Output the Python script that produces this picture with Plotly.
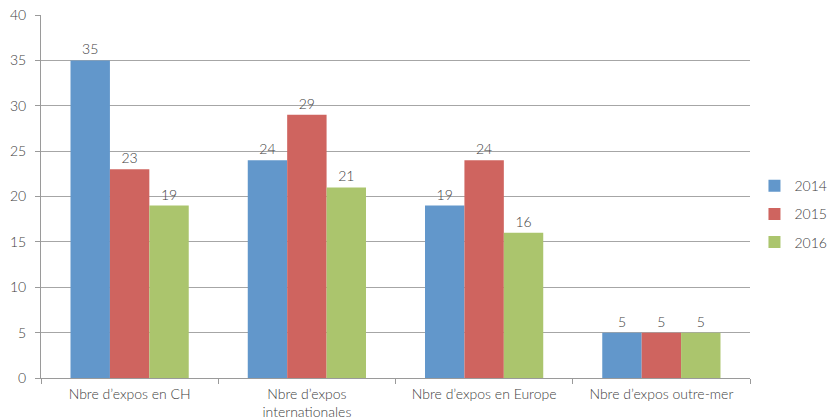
import plotly.graph_objects as go

categories = ["Nbre d’expos en CH", "Nbre d’expos<br>internationales", "Nbre d’expos en Europe", "Nbre d’expos outre-mer"]
years = ["2014", "2015", "2016"]
v2014 = [35, 24, 19, 5]
v2015 = [23, 29, 24, 5]
v2016 = [19, 21, 16, 5]
colors = ["#6297CB", "#CF645F", "#ABC56D"]

font_family = "Lato, 'Open Sans', sans-serif"
text_color = "#404040"
fs = 14

fig = go.Figure()
for name, vals, col in zip(years, [v2014, v2015, v2016], colors):
    fig.add_trace(go.Bar(
        name=name, x=categories, y=vals, legendgroup=name,
        marker=dict(color=col, line=dict(width=0)),
        text=[str(v) for v in vals], textposition="outside",
        textfont=dict(size=fs, color=text_color, family=font_family, weight=300),
        cliponaxis=False,
    ))

fig.update_layout(
    width=830, height=419,
    margin=dict(l=41, r=80, t=15, b=41, autoexpand=False),
    paper_bgcolor="white", plot_bgcolor="white",
    barmode="group", bargap=0.333, bargroupgap=0,
    font=dict(family=font_family, size=fs, color=text_color, weight=300),
    showlegend=True,
    legend=dict(xref="container", yref="container", x=0.909, y=0.489,
                yanchor="middle", xanchor="left", traceorder="grouped",
                font=dict(size=fs, color=text_color, weight=300), itemwidth=30,
                tracegroupgap=7, bgcolor="rgba(0,0,0,0)"),
    xaxis=dict(
        showline=True, linecolor="#9a9a9a", linewidth=1, automargin=False,
        ticks="outside", tickson="boundaries", ticklen=5, tickcolor="#9a9a9a",
        showgrid=False, tickfont=dict(size=fs, color=text_color, weight=300),
        ticklabelstandoff=3, ticklabeloverflow="allow",
    ),
    yaxis=dict(
        range=[0, 40], dtick=5, showline=True, linecolor="#9a9a9a", linewidth=1,
        automargin=False,
        ticks="outside", ticklen=5, tickcolor="#9a9a9a",
        showgrid=True, gridcolor="#a6a6a6", gridwidth=1,
        zeroline=False, tickfont=dict(size=fs, color=text_color, weight=300),
        ticklabelstandoff=6, ticklabeloverflow="allow",
    ),
)

fig.write_html(
    "out.html",
    config={"displayModeBar": False},
    post_script="document.body.style.margin='0';document.body.style.overflow='hidden';",
)
